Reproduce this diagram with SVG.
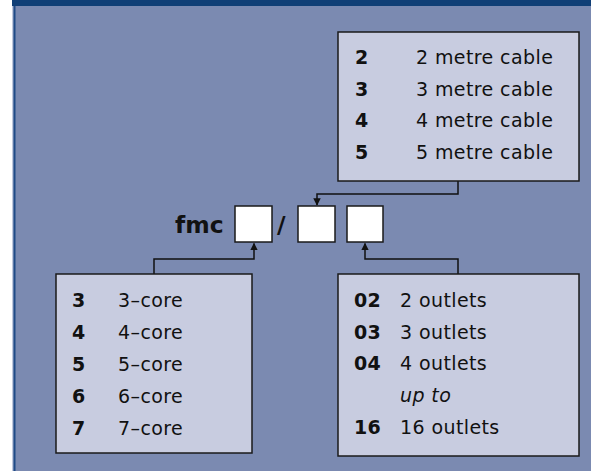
<svg xmlns="http://www.w3.org/2000/svg" width="591" height="471" viewBox="0 0 591 471">
<defs>
<style>
.bg{fill:#7b8ab1}
.box{fill:#c8cce0;stroke:#1a1a1a;stroke-width:1.5}
.sq{fill:#ffffff;stroke:#1a1a1a;stroke-width:1.5}
.t{font-family:"DejaVu Sans",sans-serif;font-size:19px;letter-spacing:0.4px;fill:#111}
.b{font-weight:bold}
.i{font-style:italic}
.ln{fill:none;stroke:#111;stroke-width:1.5}
</style>
<marker id="ar" viewBox="0 0 10 10" refX="9" refY="5" markerWidth="5" markerHeight="5" orient="auto">
<path d="M0,0 L10,5 L0,10 z" fill="#111"/>
</marker>
</defs>
<rect x="0" y="0" width="591" height="471" fill="#ffffff"/>
<rect x="12" y="0" width="579" height="471" class="bg"/>
<rect x="12" y="0" width="579" height="6" fill="#103f76"/>
<rect x="12" y="6" width="1.5" height="465" fill="#c0c8dc"/>
<rect x="13.5" y="6" width="2" height="465" fill="#1f4a86"/>

<g id="connectors">
<path class="ln" d="M458,181 V194 H317 V205" marker-end="url(#ar)"/>
<path class="ln" d="M154,274 V259 H254 V243.5" marker-end="url(#ar)"/>
<path class="ln" d="M458,274 V259 H365 V243.5" marker-end="url(#ar)"/>
</g>

<g id="cable">
<rect class="box" x="338" y="32" width="241" height="149"/>
<text class="t b" x="355" y="64">2</text><text class="t" x="416" y="64">2 metre cable</text>
<text class="t b" x="355" y="95.5">3</text><text class="t" x="416" y="95.5">3 metre cable</text>
<text class="t b" x="355" y="127">4</text><text class="t" x="416" y="127">4 metre cable</text>
<text class="t b" x="355" y="158.5">5</text><text class="t" x="416" y="158.5">5 metre cable</text>
</g>

<g id="code">
<text class="t b" x="175" y="233" style="font-size:23.5px;letter-spacing:0">fmc</text>
<rect class="sq" x="235" y="206" width="37" height="36"/>
<text class="t b" x="277" y="233" style="font-size:23.5px;letter-spacing:0">/</text>
<rect class="sq" x="298" y="206" width="37" height="36"/>
<rect class="sq" x="347" y="206" width="36" height="36"/>
</g>

<g id="cores">
<rect class="box" x="56" y="274" width="196" height="179"/>
<text class="t b" x="72" y="307">3</text><text class="t" x="118" y="307">3–core</text>
<text class="t b" x="72" y="339">4</text><text class="t" x="118" y="339">4–core</text>
<text class="t b" x="72" y="371">5</text><text class="t" x="118" y="371">5–core</text>
<text class="t b" x="72" y="403">6</text><text class="t" x="118" y="403">6–core</text>
<text class="t b" x="72" y="434.5">7</text><text class="t" x="118" y="434.5">7–core</text>
</g>

<g id="outlets">
<rect class="box" x="338" y="274" width="241" height="182"/>
<text class="t b" x="354" y="307">02</text><text class="t" x="400" y="307">2 outlets</text>
<text class="t b" x="354" y="338.5">03</text><text class="t" x="400" y="338.5">3 outlets</text>
<text class="t b" x="354" y="370">04</text><text class="t" x="400" y="370">4 outlets</text>
<text class="t i" x="400" y="402">up to</text>
<text class="t b" x="354" y="434">16</text><text class="t" x="400" y="434">16 outlets</text>
</g>
</svg>
